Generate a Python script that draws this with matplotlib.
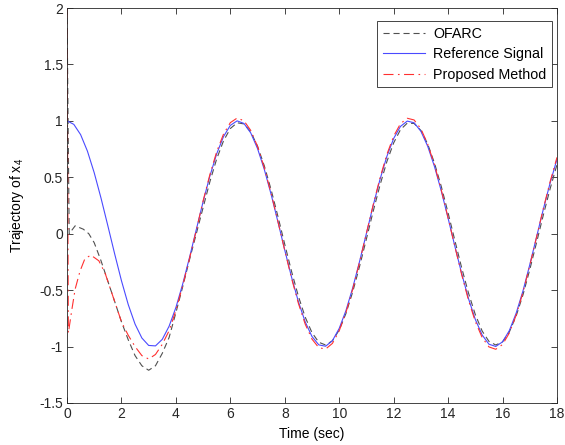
import matplotlib
matplotlib.use("Agg")
import matplotlib.pyplot as plt

plt.rcParams['font.family'] = ['Liberation Sans', 'DejaVu Sans']
plt.rcParams['mathtext.fontset'] = 'custom'
plt.rcParams['mathtext.rm'] = 'Liberation Sans'
plt.rcParams['mathtext.default'] = 'rm'

# Reference signal, sampled every 0.25 s
t_ref = [i * 0.25 for i in range(73)]
y_ref = [1.000, 0.969, 0.878, 0.732, 0.540, 0.315, 0.071, -0.178,
         -0.416, -0.628, -0.801, -0.924, -0.990, -0.994, -0.936, -0.820,
         -0.654, -0.446, -0.211, 0.037, 0.284, 0.512, 0.709, 0.861,
         0.960, 1.000, 0.977, 0.893, 0.754, 0.568, 0.347, 0.104,
         -0.146, -0.386, -0.602, -0.781, -0.911, -0.985, -0.997, -0.948,
         -0.839, -0.679, -0.476, -0.243, 0.004, 0.252, 0.483, 0.685,
         0.844, 0.951, 0.998, 0.983, 0.908, 0.775, 0.595, 0.378,
         0.137, -0.113, -0.355, -0.576, -0.760, -0.897, -0.979, -0.999,
         -0.958, -0.858, -0.704, -0.507, -0.275, -0.028, 0.219, 0.452,
         0.660]

# OFARC
t_ofarc = [0.0, 0.08, 0.3, 0.6, 0.8, 1.0, 1.25, 1.5, 1.75, 2.0, 2.25, 2.5,
           2.75, 3.0, 3.25, 3.5, 3.75, 4.0, 4.25, 4.5, 4.75] + [5.0 + i * 0.25 for i in range(53)]
y_ofarc = [2.0, 0.0, 0.07, 0.04, 0.0, -0.08, -0.24, -0.42, -0.60, -0.78, -0.94, -1.08,
           -1.17, -1.21, -1.17, -1.06, -0.92, -0.70, -0.47, -0.23, 0.0,
           0.232, 0.462, 0.664, 0.823, 0.932, 0.983, 0.973, 0.902,
           0.775, 0.600, 0.388, 0.152, -0.095, -0.335, -0.554, -0.739,
           -0.877, -0.962, -0.986, -0.949, -0.853, -0.705, -0.512, -0.287,
           -0.045, 0.201, 0.432, 0.639, 0.805, 0.922, 0.980, 0.977,
           0.915, 0.795, 0.625, 0.418, 0.184, -0.062, -0.304, -0.527,
           -0.717, -0.862, -0.954, -0.986, -0.958, -0.870, -0.729, -0.542,
           -0.318, -0.077, 0.168, 0.401, 0.613]

# Proposed method
t_prop = [0.0, 0.05, 0.18, 0.3, 0.48, 0.66, 0.88, 1.17, 1.4, 1.75, 2.0, 2.25,
          2.5, 2.75, 3.0, 3.25, 3.5, 3.75, 4.0, 4.25, 4.5, 4.75] + [5.0 + i * 0.25 for i in range(53)]
y_prop = [2.0, -0.88, -0.67, -0.49, -0.33, -0.22, -0.19, -0.24, -0.35, -0.60, -0.78, -0.90,
          -1.00, -1.08, -1.11, -1.07, -0.98, -0.86, -0.68, -0.46, -0.22, 0.03,
          0.291, 0.525, 0.727, 0.883, 0.984, 1.025, 1.001, 0.915,
          0.773, 0.582, 0.356, 0.107, -0.149, -0.396, -0.617, -0.801,
          -0.934, -1.010, -1.022, -0.972, -0.860, -0.696, -0.488, -0.249,
          0.005, 0.258, 0.495, 0.702, 0.865, 0.975, 1.023, 1.008,
          0.930, 0.794, 0.610, 0.387, 0.140, -0.115, -0.364, -0.590,
          -0.779, -0.919, -1.003, -1.024, -0.982, -0.879, -0.722, -0.520,
          -0.282, -0.029, 0.225, 0.463, 0.677]

xticks = list(range(0, 19, 2))
yticks = [-1.5, -1, -0.5, 0, 0.5, 1, 1.5, 2]
ytick_labels = ['-1.5', '-1', '-0.5', '0', '0.5', '1', '1.5', '2']

fig = plt.figure(figsize=(5.65, 4.45), dpi=100)
ax = fig.add_axes([67 / 565, 42 / 445, 490 / 565, 395 / 445])

ax.plot(t_ofarc, y_ofarc, color='#505050', lw=0.8, linestyle=(0, (5.5, 3.5)), label='OFARC')
ax.plot(t_ref, y_ref, color='#4a4aff', lw=0.8, label='Reference Signal')
ax.plot(t_prop, y_prop, color='#ff3030', lw=0.8, linestyle=(0, (9, 4, 1.5, 4)), label='Proposed Method')

ax.set_xlim(0, 18)
ax.set_ylim(-1.5, 2)
ax.set_xticks(xticks)
ax.set_yticks(yticks)
ax.set_yticklabels(ytick_labels)
ax.tick_params(direction='in', top=True, right=True, length=4, width=0.6,
               labelsize=10, colors='#262626', pad=3)
for s in ax.spines.values():
    s.set_linewidth(0.6)
    s.set_color('#262626')

ax.set_xlabel('Time (sec)', fontsize=10, labelpad=4)
ax.set_ylabel('Trajectory of x$_4$', fontsize=10, labelpad=9)

leg = ax.legend(loc='upper right', bbox_to_anchor=(0.99, 0.967), borderaxespad=0,
                fancybox=False, framealpha=1, edgecolor='#262626', fontsize=10.3,
                handlelength=2.9, handletextpad=0.6, borderpad=0.4, labelspacing=0.45)
leg.get_frame().set_linewidth(0.6)

fig.savefig('out.png', dpi=100)
